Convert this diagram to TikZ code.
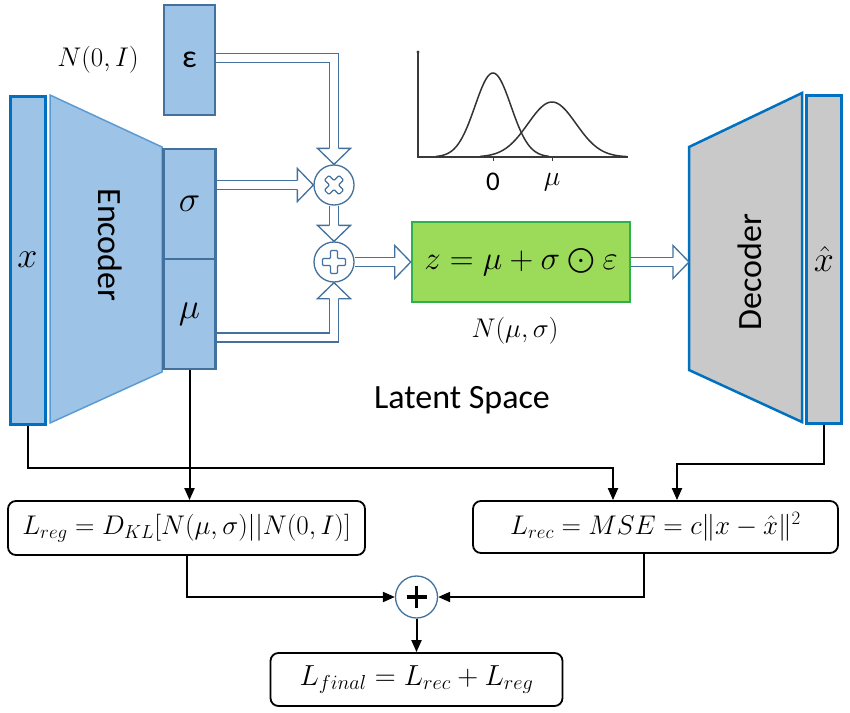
\RequirePackage{fix-cm}
\documentclass[tikz,border=0pt]{standalone}
\usepackage{amsmath}
\usepackage[no-math]{fontspec}
\newfontfamily\carl{Carlito}
\usetikzlibrary{calc,arrows.meta}
\definecolor{lblue}{HTML}{9DC3E6}
\definecolor{sblue}{HTML}{41719C}
\definecolor{bblue}{HTML}{0070C0}
\definecolor{mblue}{HTML}{5B9BD5}
\definecolor{gfill}{HTML}{9CDB5A}
\definecolor{gline}{HTML}{2EB14A}
\definecolor{dgray}{HTML}{C9C9C9}
\definecolor{axgray}{HTML}{3A3A3A}
\newcommand\myfs[1]{\fontsize{#1}{#1}\selectfont}
\tikzset{
  hollow/.style={draw=sblue, line width=1.3pt, double=white, double distance=7.5pt},
  hhead/.pic={\filldraw[fill=white, draw=sblue, line width=1.3pt, line join=miter]
     (-16,-4.4) -- (-16,-16.5) -- (0,0) -- (-16,16.5) -- (-16,4.4);},
  plusmark/.pic={\draw[sblue, line width=1.2pt, rounded corners=1pt]
     (3.5,11.5) -- (3.5,3.5) -- (11.5,3.5) -- (11.5,-3.5) -- (3.5,-3.5) -- (3.5,-11.5)
     -- (-3.5,-11.5) -- (-3.5,-3.5) -- (-11.5,-3.5) -- (-11.5,3.5) -- (-3.5,3.5) -- (-3.5,11.5) -- cycle;},
  bluebox/.style={draw=sblue, fill=lblue, line width=2.5pt, inner sep=0pt, minimum width=52pt},
  bar/.style={line width=3pt, draw=bblue, minimum width=35pt, minimum height=328pt, inner sep=0pt},
  opcirc/.style={circle, draw=sblue, fill=white, line width=1.3pt, minimum size=40pt, inner sep=0pt},
  lossbox/.style={draw=black, line width=1.8pt, rounded corners=8pt, inner sep=0pt},
  conn/.style={line width=2pt, -{Triangle[length=12pt,width=10pt]}},
  sanslabel/.style={font=\carl\myfs{34}},
}
\begin{document}
\begin{tikzpicture}[x=1pt, y=-1pt]
\useasboundingbox (0,0) rectangle (850,712);
% encoder
\filldraw[fill=lblue, draw=mblue, line width=1.5pt] (50,95) -- (162,147) -- (162,372) -- (50,423) -- cycle;
\node[sanslabel, rotate=-90] (enc) at (110,245) {Encoder};
\node[bar, fill=lblue] (xbar) at (27.5,260) {\myfs{36}$x$};
\node[bluebox, minimum height=110pt] (sig) at (189.5,204) {\myfs{36}$\sigma$};
\node[bluebox, minimum height=110pt] (mu) at (189.5,314) {\myfs{36}$\mu$};
\node[bluebox, minimum height=110pt, line width=2pt, minimum width=51pt] (eps) at (189.5,60) {\carl\myfs{32}ε};
\node[font=\myfs{27}] (n0i) at (98,60) {$N(0,I)$};
% decoder
\filldraw[fill=dgray, draw=bblue, line width=2.5pt] (689,147) -- (802,93) -- (802,422) -- (689,370) -- cycle;
\node[sanslabel, rotate=90] (dec) at (750,272) {Decoder};
\node[bar, fill=dgray] (xhat) at (824,259) {\myfs{36}$\hat{x}$};
\coordinate (decl) at (689,262);
% operators
\node[opcirc] (mul) at (334,185) {};
\pic[rotate=45, scale=0.9] at (mul) {plusmark};
\node[opcirc] (add) at (334,262) {};
\pic at (add) {plusmark};
% latent
\node[draw=gline, fill=gfill, line width=2.5pt, minimum width=218pt, minimum height=80pt, inner sep=0pt] (zbox) at (521,262)
  {\myfs{33}$z=\mu+\sigma\mathbin{\bigodot}\varepsilon$};
\node[font=\myfs{27}] (nms) at (515,331) {$N(\mu,\sigma)$};
\node[sanslabel] (lat) at (462,400) {Latent Space};
% hollow arrows
\draw[hollow] ($(eps.east)+(0,-2)$) -| ($(mul.north)+(0,-16)$);
\pic[rotate=-90] at (mul.north) {hhead};
\draw[hollow] (sig.east |- mul.west) -- ($(mul.west)+(-16,0)$);
\pic at (mul.west) {hhead};
\draw[hollow] (mul.south) -- ($(add.north)+(0,-16)$);
\pic[rotate=-90] at (add.north) {hhead};
\draw[hollow] ($(mu.east)+(0,23.5)$) -| ($(add.south)+(0,16)$);
\pic[rotate=90] at (add.south) {hhead};
\draw[hollow] (add.east) -- ($(zbox.west)+(-16,0)$);
\pic at (zbox.west) {hhead};
\draw[hollow] (zbox.east) -- ($(decl)+(-16,0)$);
\pic at (decl) {hhead};
% gaussian plot
\draw[axgray, line width=1.2pt] (418,52) -- (418,157) -- (628,157);
\fill[axgray] (418,52) circle (1.6);
\draw[axgray, line width=1pt] (493,157) -- (493,161) (552,157) -- (552,161);
\draw[black!80, line width=1.5pt, smooth] plot[domain=436:549, samples=70] (\x, {157-84*exp(-((\x-493)*(\x-493))/648)});
\draw[black!80, line width=1.5pt, smooth] plot[domain=480:627, samples=80] (\x, {157-55*exp(-((\x-552)*(\x-552))/1152)});
\node[font=\carl\myfs{27}] (t0) at (493,182) {0};
\node[font=\myfs{28}] (tmu) at (552,182) {$\mu$};
% losses
\node[lossbox, minimum width=357pt, minimum height=54pt] (lreg) at (186.5,528)
  {\myfs{27}$L_{reg}=D_{KL}[N(\mu,\sigma)||N(0,I)]$};
\node[lossbox, minimum width=365pt, minimum height=52pt] (lrec) at (655.5,527)
  {\myfs{27}$L_{rec}=MSE=c\|x-\hat{x}\|^2$};
\node[lossbox, minimum width=292pt, minimum height=53pt] (lfin) at (416.5,679.5)
  {\myfs{29}$L_{final}=L_{rec}+L_{reg}$};
\node[circle, draw=sblue, line width=1.3pt, minimum size=42pt, inner sep=0pt] (sum) at (416.5,597) {};
\draw[line width=3.5pt] ($(sum)+(-10,0)$) -- ($(sum)+(10,0)$) ($(sum)+(0,-11)$) -- ($(sum)+(0,11)$);
% connectors
\draw[conn] (xbar.south) -- ++(0,42) -| ($(lrec.north)+(-42.5,0)$);
\draw[conn] (xhat.south) -- ++(0,39) -| ($(lrec.north)+(21.5,0)$);
\draw[conn] (mu.south) -- (mu.south |- lreg.north);
\draw[conn] (lreg.south) |- (sum.west);
\draw[conn] ($(lrec.south)+(-11.5,0)$) |- (sum.east);
\draw[conn] (sum.south) -- (lfin.north);
\end{tikzpicture}
\end{document}
